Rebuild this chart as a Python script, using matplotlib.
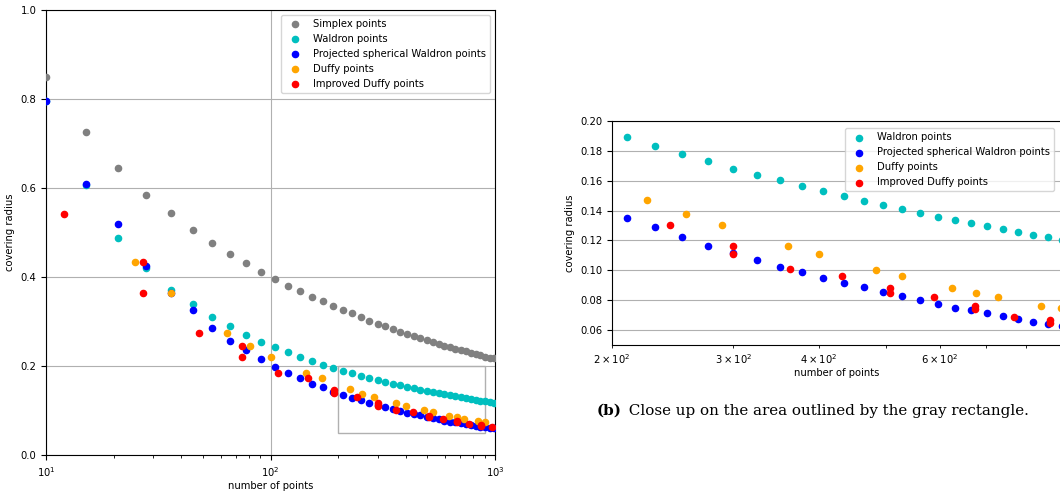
import matplotlib
matplotlib.use("Agg")
import matplotlib.pyplot as plt
from matplotlib.patches import Rectangle

plt.rcParams["font.size"] = 7.2

# simplex points (triangular numbers)
simplex_n = [10, 15, 21, 28, 36, 45, 55, 66, 78, 91, 105, 120, 136, 153, 171, 190, 210, 231,
             253, 276, 300, 325, 351, 378, 406, 435, 465, 496, 528, 561, 595, 630, 666, 703,
             741, 780, 820, 861, 903, 946, 990]
simplex_r = [0.850, 0.725, 0.645, 0.585, 0.543, 0.505, 0.476, 0.452, 0.431, 0.411, 0.395,
             0.380, 0.368, 0.356, 0.345, 0.335, 0.326, 0.318, 0.310, 0.302, 0.295, 0.289,
             0.283, 0.277, 0.272, 0.267, 0.262, 0.258, 0.254, 0.250, 0.246, 0.242, 0.239,
             0.236, 0.233, 0.230, 0.227, 0.224, 0.221, 0.219, 0.217]

waldron_n = simplex_n
waldron_r = [0.795, 0.607, 0.488, 0.420, 0.371, 0.339, 0.311, 0.290, 0.270, 0.255, 0.242,
             0.231, 0.220, 0.211, 0.203, 0.196, 0.189, 0.1833, 0.178, 0.173, 0.168, 0.164,
             0.1605, 0.1565, 0.153, 0.1496, 0.1466, 0.1438, 0.141, 0.1384, 0.136, 0.134,
             0.1315, 0.1297, 0.1275, 0.1257, 0.1237, 0.1221, 0.1205, 0.119, 0.1175]

proj_n = simplex_n
proj_r = [0.795, 0.608, 0.520, 0.425, 0.365, 0.325, 0.286, 0.257, 0.235, 0.215, 0.198,
          0.185, 0.172, 0.160, 0.153, 0.142, 0.135, 0.1288, 0.1225, 0.1165, 0.1118, 0.1069,
          0.1024, 0.0991, 0.0951, 0.0917, 0.0888, 0.0855, 0.0828, 0.0799, 0.0775, 0.075,
          0.0732, 0.0712, 0.0692, 0.0672, 0.0654, 0.0639, 0.0625, 0.061, 0.060]

duffy_n = [25, 36, 64, 81, 100, 144, 169, 225, 256, 289, 361, 400, 484, 529, 625, 676,
           729, 841, 900]
duffy_r = [0.434, 0.365, 0.275, 0.245, 0.221, 0.184, 0.172, 0.1473, 0.1379, 0.1302,
           0.1165, 0.1107, 0.1004, 0.0962, 0.0884, 0.085, 0.0819, 0.0761, 0.075]

impr_n = [12, 27, 27, 48, 75, 75, 108, 147, 192, 192, 243, 300, 300, 363, 432, 507, 507,
          588, 675, 675, 768, 867, 867, 972]
impr_r = [0.542, 0.434, 0.365, 0.275, 0.245, 0.221, 0.184, 0.172, 0.147, 0.140, 0.1302,
          0.1165, 0.1107, 0.1007, 0.0962, 0.0884, 0.085, 0.0819, 0.0762, 0.0738, 0.0688,
          0.0667, 0.0645, 0.062]

series = [
    (waldron_n, waldron_r, "c", "Waldron points"),
    (proj_n, proj_r, "b", "Projected spherical Waldron points"),
    (duffy_n, duffy_r, "orange", "Duffy points"),
    (impr_n, impr_r, "r", "Improved Duffy points"),
]
dot = 20

fig = plt.figure(figsize=(10.6, 4.92), dpi=100)

## full view
ax1 = fig.add_axes([0.0434, 0.0752, 0.4236, 0.9045])
ax1.scatter(simplex_n, simplex_r, s=dot, c="grey", label="Simplex points", zorder=3)
for n, r, col, lab in series:
    ax1.scatter(n, r, s=dot, c=col, label=lab, zorder=3)
ax1.set_xscale("log")
ax1.set_xlim(10, 1000)
ax1.set_ylim(0, 1)
ax1.set_yticks([0, 0.2, 0.4, 0.6, 0.8, 1.0])
ax1.grid(True, zorder=0)
ax1.add_patch(Rectangle((200, 0.05), 700, 0.15, fill=False, edgecolor="#b0b0b0", lw=1, zorder=2))
ax1.set_xlabel("number of points", labelpad=1.5)
ax1.set_ylabel("covering radius")
ax1.legend(loc="upper right", fontsize=7.2)

## close up
ax2 = fig.add_axes([0.5774, 0.2988, 0.4236, 0.4553])
for n, r, col, lab in series:
    ax2.scatter(n, r, s=dot, c=col, label=lab, zorder=3)
ax2.set_xscale("log")
ax2.set_xlim(200, 900)
ax2.set_ylim(0.05, 0.2)
ax2.set_yticks([0.06, 0.08, 0.10, 0.12, 0.14, 0.16, 0.18, 0.20])
ax2.grid(True, zorder=0)
ax2.set_xlabel("number of points", labelpad=1.5)
ax2.set_ylabel("covering radius")
ax2.legend(loc="upper right", fontsize=7.2, bbox_to_anchor=(0.995, 0.99))

# caption
t1 = fig.text(0.5632, 0.157, "(b)", family="DejaVu Serif", fontsize=10.9, fontweight="bold",
              va="baseline")
plt.annotate(" Close up on the area outlined by the gray rectangle.", xy=(1, 0),
             xycoords=t1, xytext=(1.5, 0), textcoords="offset points", va="bottom",
             family="DejaVu Serif", fontsize=10.9)

fig.savefig("out.png", dpi=100)
